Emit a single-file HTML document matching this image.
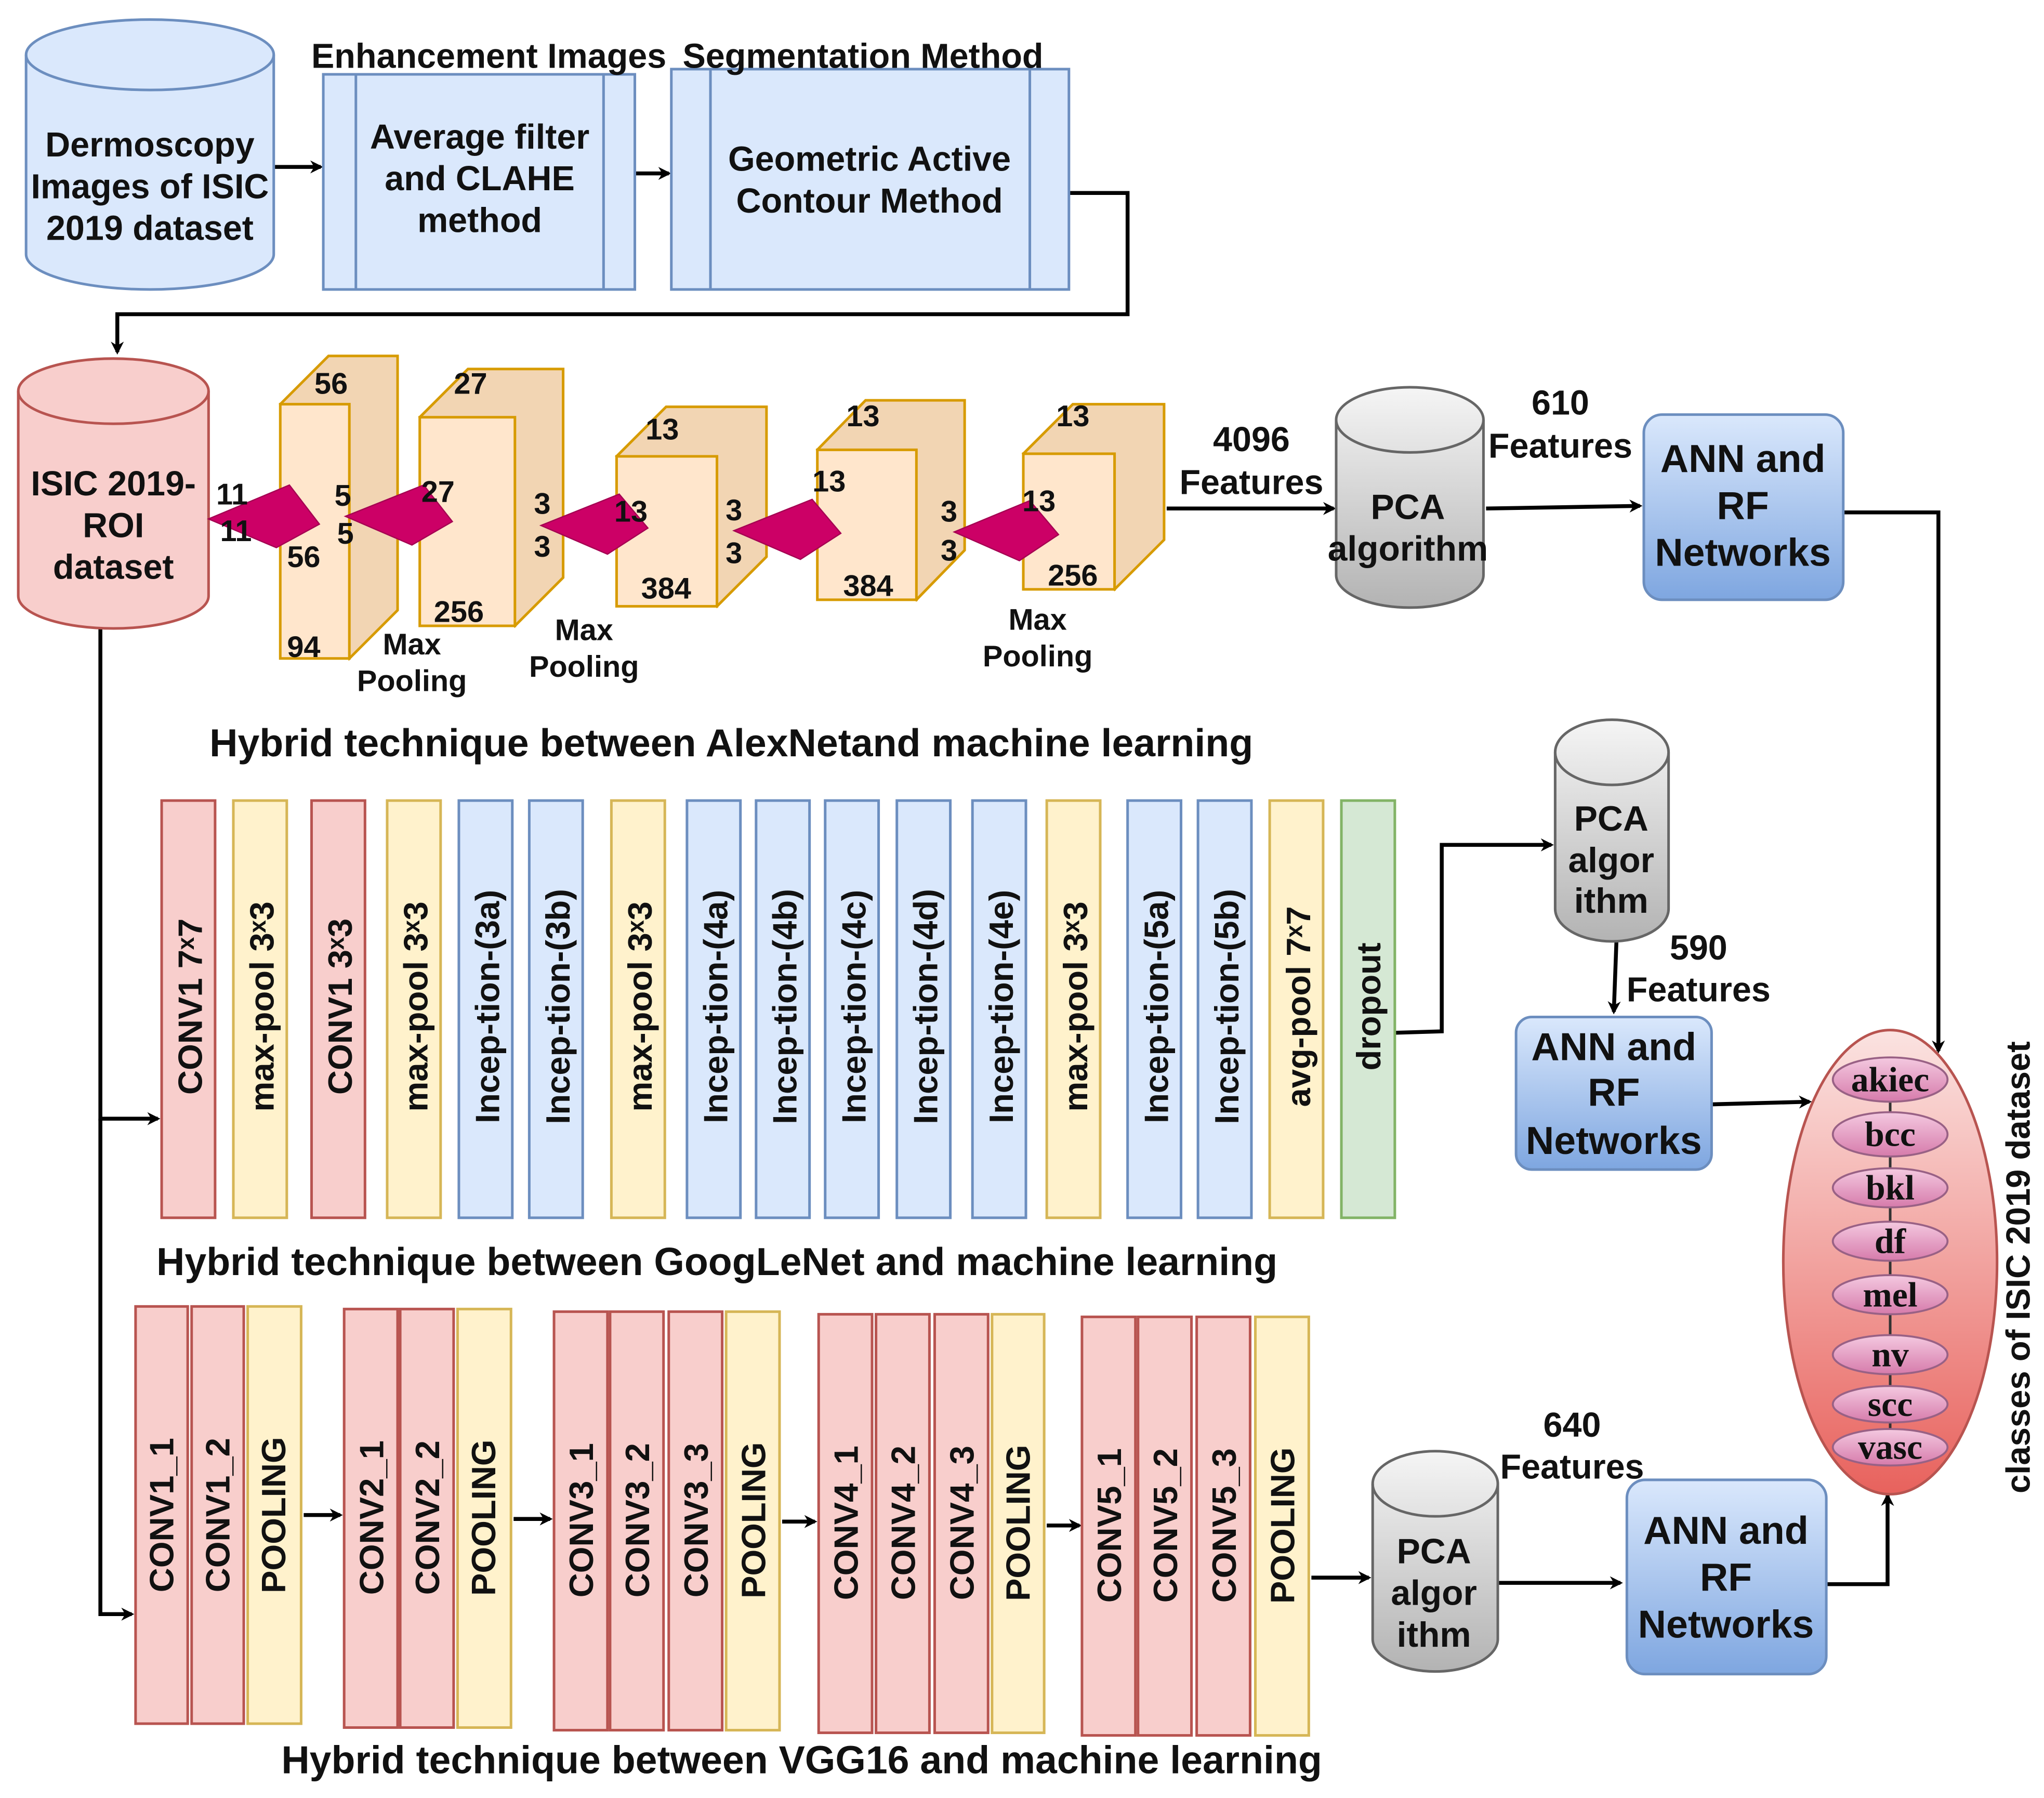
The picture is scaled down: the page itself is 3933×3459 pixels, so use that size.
<!DOCTYPE html>
<html><head><meta charset="utf-8"><style>
html,body{margin:0;padding:0;background:#fff;}
svg{display:block;}
text{font-family:"Liberation Sans",sans-serif;font-weight:bold;fill:#111;}
.s{font-family:"Liberation Serif",serif;}
</style></head><body>
<svg width="3933" height="3459" viewBox="0 0 1568 1379" xmlns="http://www.w3.org/2000/svg">
<defs>
<linearGradient id="gry" x1="0" y1="0" x2="0" y2="1"><stop offset="0" stop-color="#f5f5f5"/><stop offset="1" stop-color="#b3b3b3"/></linearGradient>
<linearGradient id="ann" x1="0" y1="0" x2="0" y2="1"><stop offset="0" stop-color="#dae8fc"/><stop offset="1" stop-color="#7ea6e0"/></linearGradient>
<linearGradient id="big" x1="0" y1="0" x2="0" y2="1"><stop offset="0" stop-color="#fbe3e1"/><stop offset="1" stop-color="#e8625d"/></linearGradient>
<linearGradient id="sm" x1="0" y1="0" x2="0" y2="1"><stop offset="0" stop-color="#f4c9e0"/><stop offset="1" stop-color="#d67bab"/></linearGradient>
<marker id="a" markerWidth="10" markerHeight="10" refX="8" refY="5" orient="auto" markerUnits="userSpaceOnUse"><path d="M0,0 L10,5 L0,10 L3,5 Z" fill="#000"/></marker>
</defs>
<g stroke="#000" stroke-width="3" fill="none" marker-end="url(#a)">
<path d="M210,128 H246"/>
<path d="M487,133 H513"/>
<path d="M820,148 H865 V241 H90 V270"/>
<path d="M77,482 V858 H121"/>
<path d="M77,858 V1238 H101"/>
<path d="M895,390 H1023"/>
<path d="M1140,390 L1258,388"/>
<path d="M1414,393 H1487 V806"/>
<path d="M1040,793 L1106,791 V648 H1190"/>
<path d="M1240,722 L1238,776"/>
<path d="M1313,847 L1388,845"/>
<path d="M233,1162 H261"/>
<path d="M394,1165 H422"/>
<path d="M600,1167 H625"/>
<path d="M803,1170 H828"/>
<path d="M1006,1210 H1050"/>
<path d="M1150,1214 H1243"/>
<path d="M1401,1215 H1448 V1147"/>
</g>
<g stroke="#6c8ebf" stroke-width="2" fill="#dae8fc">
<path d="M20,42 A95,27 0 0 1 210,42 V195 A95,27 0 0 1 20,195 Z"/>
<path d="M20,42 A95,27 0 0 0 210,42" fill="none"/>
<rect x="248" y="57" width="239" height="165"/><path d="M273,57V222M463,57V222"/>
<rect x="515" y="53" width="305" height="169"/><path d="M545,53V222M790,53V222"/>
</g>
<g font-size="26.5" text-anchor="middle">
<text x="115" y="120">Dermoscopy</text><text x="115" y="152">Images of ISIC</text><text x="115" y="184">2019 dataset</text>
<text x="375" y="52">Enhancement Images</text><text x="662" y="52">Segmentation Method</text>
<text x="368" y="114">Average filter</text><text x="368" y="146">and CLAHE</text><text x="368" y="178">method</text>
<text x="667" y="131">Geometric Active</text><text x="667" y="163">Contour Method</text>
</g>
<g stroke="#b85450" stroke-width="2" fill="#f8cecc">
<path d="M14,300 A73,25 0 0 1 160,300 V457 A73,25 0 0 1 14,457 Z"/>
<path d="M14,300 A73,25 0 0 0 160,300" fill="none"/>
</g>
<g font-size="26.5" text-anchor="middle"><text x="87" y="380">ISIC 2019-</text><text x="87" y="412">ROI</text><text x="87" y="444">dataset</text></g>
<g stroke="#d79b00" stroke-width="2">
<path d="M215,310 L252,273 H305 V468 L268,505 Z" fill="#f2d5b3"/><rect x="215" y="310" width="53" height="195" fill="#ffe6cc"/>
<path d="M322,320 L359,283 H432 V443 L395,480 Z" fill="#f2d5b3"/><rect x="322" y="320" width="73" height="160" fill="#ffe6cc"/>
<path d="M473,350 L511,312 H588 V427 L550,465 Z" fill="#f2d5b3"/><rect x="473" y="350" width="77" height="115" fill="#ffe6cc"/>
<path d="M627,345 L664,307 H740 V422 L703,460 Z" fill="#f2d5b3"/><rect x="627" y="345" width="76" height="115" fill="#ffe6cc"/>
<path d="M785,348 L823,310 H893 V414 L855,452 Z" fill="#f2d5b3"/><rect x="785" y="348" width="70" height="104" fill="#ffe6cc"/>
</g>
<g fill="#cc0066" stroke="#a50052" stroke-width="1">
<polygon points="160,398 222,372 245,402 212,420"/>
<polygon points="265,396 325,372 347,400 316,418"/>
<polygon points="415,403 475,379 497,405 466,425"/>
<polygon points="563,407 623,383 645,409 614,429"/>
<polygon points="732,408 790,384 812,410 782,430"/>
</g>
<g font-size="23" text-anchor="middle">
<text x="254" y="302">56</text><text x="361" y="302">27</text><text x="508" y="337">13</text><text x="662" y="327">13</text><text x="823" y="327">13</text>
<text x="178" y="387">11</text><text x="181" y="415">11</text><text x="233" y="435">56</text><text x="233" y="504">94</text>
<text x="263" y="388">5</text><text x="265" y="417">5</text><text x="336" y="385">27</text><text x="352" y="477">256</text>
<text x="416" y="394">3</text><text x="416" y="427">3</text><text x="484" y="400">13</text><text x="511" y="459">384</text>
<text x="563" y="399">3</text><text x="563" y="432">3</text><text x="636" y="377">13</text><text x="666" y="457">384</text>
<text x="728" y="400">3</text><text x="728" y="430">3</text><text x="797" y="392">13</text><text x="823" y="449">256</text>
<text x="316" y="502">Max</text><text x="316" y="530">Pooling</text>
<text x="448" y="491">Max</text><text x="448" y="519">Pooling</text>
<text x="796" y="483">Max</text><text x="796" y="511">Pooling</text>
</g>
<g font-size="26.5" text-anchor="middle">
<text x="960" y="346">4096</text><text x="960" y="379">Features</text>
<text x="1197" y="318">610</text><text x="1197" y="351">Features</text>
<text x="1303" y="736">590</text><text x="1303" y="768">Features</text>
<text x="1206" y="1102">640</text><text x="1206" y="1134">Features</text>
</g>
<g stroke="#666" stroke-width="2" fill="url(#gry)">
<path d="M1025,322 A56.5,25 0 0 1 1138,322 V441 A56.5,25 0 0 1 1025,441 Z"/>
<path d="M1193,577 A43.5,25 0 0 1 1280,577 V697 A43.5,25 0 0 1 1193,697 Z"/>
<path d="M1053,1138 A48,25 0 0 1 1149,1138 V1257 A48,25 0 0 1 1053,1257 Z"/>
</g>
<g stroke="#666" stroke-width="2" fill="none">
<path d="M1025,322 A56.5,25 0 0 0 1138,322"/><path d="M1193,577 A43.5,25 0 0 0 1280,577"/><path d="M1053,1138 A48,25 0 0 0 1149,1138"/>
</g>
<g font-size="27" text-anchor="middle">
<text x="1080" y="398">PCA</text><text x="1080" y="430">algorithm</text>
<text x="1236" y="637">PCA</text><text x="1236" y="669">algor</text><text x="1236" y="700">ithm</text>
<text x="1100" y="1199">PCA</text><text x="1100" y="1231">algor</text><text x="1100" y="1263">ithm</text>
</g>
<g stroke="#6c8ebf" stroke-width="2" fill="url(#ann)">
<rect x="1261" y="318" width="153" height="142" rx="14"/>
<rect x="1163" y="780" width="150" height="117" rx="12"/>
<rect x="1248" y="1135" width="153" height="149" rx="14"/>
</g>
<g font-size="30" text-anchor="middle">
<text x="1337" y="362">ANN and</text><text x="1337" y="398">RF</text><text x="1337" y="434">Networks</text>
<text x="1238" y="813">ANN and</text><text x="1238" y="848">RF</text><text x="1238" y="885">Networks</text>
<text x="1324" y="1184">ANN and</text><text x="1324" y="1220">RF</text><text x="1324" y="1256">Networks</text>
</g>
<g font-size="30" text-anchor="middle">
<text x="561" y="580">Hybrid technique between AlexNetand machine learning</text>
<text x="550" y="978">Hybrid technique between GoogLeNet and machine learning</text>
<text x="615" y="1360">Hybrid technique between VGG16 and machine learning</text>
</g>
<g stroke-width="2">
<rect x="124" y="614" width="41" height="320" fill="#f8cecc" stroke="#b85450"/>
<rect x="179" y="614" width="41" height="320" fill="#fff2cc" stroke="#d6b656"/>
<rect x="239" y="614" width="41" height="320" fill="#f8cecc" stroke="#b85450"/>
<rect x="297" y="614" width="41" height="320" fill="#fff2cc" stroke="#d6b656"/>
<rect x="352" y="614" width="41" height="320" fill="#dae8fc" stroke="#6c8ebf"/>
<rect x="406" y="614" width="41" height="320" fill="#dae8fc" stroke="#6c8ebf"/>
<rect x="469" y="614" width="41" height="320" fill="#fff2cc" stroke="#d6b656"/>
<rect x="527" y="614" width="41" height="320" fill="#dae8fc" stroke="#6c8ebf"/>
<rect x="580" y="614" width="41" height="320" fill="#dae8fc" stroke="#6c8ebf"/>
<rect x="633" y="614" width="41" height="320" fill="#dae8fc" stroke="#6c8ebf"/>
<rect x="688" y="614" width="41" height="320" fill="#dae8fc" stroke="#6c8ebf"/>
<rect x="746" y="614" width="41" height="320" fill="#dae8fc" stroke="#6c8ebf"/>
<rect x="803" y="614" width="41" height="320" fill="#fff2cc" stroke="#d6b656"/>
<rect x="865" y="614" width="41" height="320" fill="#dae8fc" stroke="#6c8ebf"/>
<rect x="919" y="614" width="41" height="320" fill="#dae8fc" stroke="#6c8ebf"/>
<rect x="974" y="614" width="41" height="320" fill="#fff2cc" stroke="#d6b656"/>
<rect x="1029" y="614" width="41" height="320" fill="#d5e8d4" stroke="#82b366"/>
</g>
<g font-size="26" text-anchor="middle" dominant-baseline="central">
<text transform="translate(146,772) rotate(-90)">CONV1 7ˣ7</text>
<text transform="translate(201,772) rotate(-90)">max-pool 3ˣ3</text>
<text transform="translate(261,772) rotate(-90)">CONV1 3ˣ3</text>
<text transform="translate(319,772) rotate(-90)">max-pool 3ˣ3</text>
<text transform="translate(374,772) rotate(-90)">Incep-tion-(3a)</text>
<text transform="translate(428,772) rotate(-90)">Incep-tion-(3b)</text>
<text transform="translate(491,772) rotate(-90)">max-pool 3ˣ3</text>
<text transform="translate(549,772) rotate(-90)">Incep-tion-(4a)</text>
<text transform="translate(602,772) rotate(-90)">Incep-tion-(4b)</text>
<text transform="translate(655,772) rotate(-90)">Incep-tion-(4c)</text>
<text transform="translate(710,772) rotate(-90)">Incep-tion-(4d)</text>
<text transform="translate(768,772) rotate(-90)">Incep-tion-(4e)</text>
<text transform="translate(825,772) rotate(-90)">max-pool 3ˣ3</text>
<text transform="translate(887,772) rotate(-90)">Incep-tion-(5a)</text>
<text transform="translate(941,772) rotate(-90)">Incep-tion-(5b)</text>
<text transform="translate(996,772) rotate(-90)">avg-pool 7ˣ7</text>
<text transform="translate(1050,772) rotate(-90)">dropout</text>
</g>
<g stroke-width="2">
<g fill="#f8cecc" stroke="#b85450">
<rect x="104" y="1002" width="40" height="320"/><rect x="147" y="1002" width="40" height="320"/>
<rect x="264" y="1004" width="41" height="321"/><rect x="307" y="1004" width="41" height="321"/>
<rect x="425" y="1006" width="41" height="321"/><rect x="468" y="1006" width="41" height="321"/><rect x="513" y="1006" width="41" height="321"/>
<rect x="628" y="1008" width="41" height="321"/><rect x="672" y="1008" width="41" height="321"/><rect x="717" y="1008" width="41" height="321"/>
<rect x="830" y="1010" width="41" height="321"/><rect x="873" y="1010" width="41" height="321"/><rect x="918" y="1010" width="41" height="321"/>
</g>
<g fill="#fff2cc" stroke="#d6b656">
<rect x="190" y="1002" width="41" height="320"/><rect x="351" y="1004" width="41" height="321"/><rect x="557" y="1006" width="41" height="321"/><rect x="761" y="1008" width="40" height="321"/><rect x="963" y="1010" width="41" height="321"/>
</g>
</g>
<g font-size="26" text-anchor="middle" dominant-baseline="central">
<text transform="translate(124,1162) rotate(-90)">CONV1_1</text><text transform="translate(167,1162) rotate(-90)">CONV1_2</text><text transform="translate(210,1162) rotate(-90)">POOLING</text>
<text transform="translate(285,1164) rotate(-90)">CONV2_1</text><text transform="translate(328,1164) rotate(-90)">CONV2_2</text><text transform="translate(371,1164) rotate(-90)">POOLING</text>
<text transform="translate(446,1166) rotate(-90)">CONV3_1</text><text transform="translate(489,1166) rotate(-90)">CONV3_2</text><text transform="translate(534,1166) rotate(-90)">CONV3_3</text><text transform="translate(578,1166) rotate(-90)">POOLING</text>
<text transform="translate(649,1168) rotate(-90)">CONV4_1</text><text transform="translate(693,1168) rotate(-90)">CONV4_2</text><text transform="translate(738,1168) rotate(-90)">CONV4_3</text><text transform="translate(781,1168) rotate(-90)">POOLING</text>
<text transform="translate(851,1170) rotate(-90)">CONV5_1</text><text transform="translate(894,1170) rotate(-90)">CONV5_2</text><text transform="translate(939,1170) rotate(-90)">CONV5_3</text><text transform="translate(984,1170) rotate(-90)">POOLING</text>
</g>
<ellipse cx="1450" cy="968" rx="82" ry="178" fill="url(#big)" stroke="#b85450" stroke-width="2"/>
<path d="M1450,828 V1110" stroke="#333" stroke-width="2"/>
<g fill="url(#sm)" stroke="#996185" stroke-width="1.5">
<ellipse cx="1450" cy="828" rx="44" ry="17"/><ellipse cx="1450" cy="870" rx="44" ry="17"/><ellipse cx="1450" cy="911" rx="44" ry="15"/><ellipse cx="1450" cy="952" rx="44" ry="15"/>
<ellipse cx="1450" cy="993" rx="44" ry="15"/><ellipse cx="1450" cy="1039" rx="44" ry="15"/><ellipse cx="1450" cy="1077" rx="44" ry="14"/><ellipse cx="1450" cy="1110" rx="44" ry="14"/>
</g>
<g font-size="27" text-anchor="middle" dominant-baseline="central">
<text class="s" x="1450" y="828">akiec</text><text class="s" x="1450" y="870">bcc</text><text class="s" x="1450" y="911">bkl</text><text class="s" x="1450" y="952">df</text>
<text class="s" x="1450" y="993">mel</text><text class="s" x="1450" y="1039">nv</text><text class="s" x="1450" y="1077">scc</text><text class="s" x="1450" y="1110">vasc</text>
</g>
<text font-size="26" text-anchor="middle" dominant-baseline="central" transform="translate(1548,972) rotate(-90)">classes of ISIC 2019 dataset</text>
</svg>
</body></html>
